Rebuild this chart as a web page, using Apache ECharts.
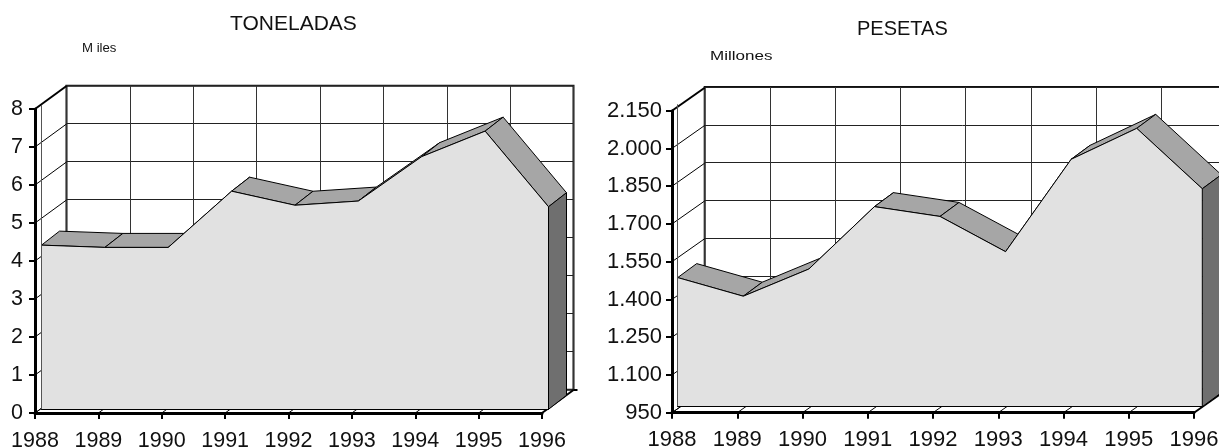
<!DOCTYPE html>
<html><head><meta charset="utf-8">
<style>html,body{margin:0;padding:0;background:#fff}#c{width:1219px;height:447px}</style>
<script src="https://cdn.jsdelivr.net/npm/echarts@6/dist/echarts.min.js"></script>
</head><body><div id="c"></div>
<script>
const years = ['1988','1989','1990','1991','1992','1993','1994','1995','1996'];
const toneladas = [4.32,4.26,4.26,5.74,5.37,5.48,6.65,7.32,5.33];
const pesetas = [1463,1389,1497,1745,1706,1566,1933,2056,1816];
const toneladasTicks = [0,1,2,3,4,5,6,7,8];
const pesetasTicks = [950,1100,1250,1400,1550,1700,1850,2000,2150];

const FONT = '"Liberation Sans", Arial, sans-serif';
const fmt = v => String(v).replace(/(\d)(\d{3})$/, '$1.$2');

const panels = [
  { values: toneladas, ticks: toneladasTicks, fmt: v => String(v), labelMargin: 12, fontSize: 21.5,
    front: {left:35, top:109, width:507, height:304},
    wall:  {left:66.5, top:85.7, width:507, height:304},
    area:  {left:41.5, top:105.3, width:507, height:304},
    depth: [18,-14], wallD: [31.5,-23], xMargin: 17 },
  { values: pesetas, ticks: pesetasTicks, fmt: fmt, labelMargin: 10, fontSize: 22,
    front: {left:672, top:110.7, width:522, height:302},
    wall:  {left:704.7, top:87, width:522, height:302},
    area:  {left:677.7, top:104.7, width:524.6, height:302},
    depth: [19,-14], wallD: [32.7,-23], xMargin: 16 }
];

const grids = [], xAxes = [], yAxes = [], series = [];
const line = (a,b,w,c,z) => ({type:'line', shape:{x1:a[0],y1:a[1],x2:b[0],y2:b[1]}, style:{stroke:c||'#000',lineWidth:w}, z2:z||0});

panels.forEach(p => {
  const vmin = p.ticks[0], vmax = p.ticks[p.ticks.length-1];
  const base = grids.length;
  const iWall = base, iFront = base+1, iArea = base+2;
  grids.push(Object.assign({show:true, outerBoundsMode:'none', borderColor:'#111', borderWidth:2, backgroundColor:'#fff'}, p.wall));
  grids.push(Object.assign({show:false, outerBoundsMode:'none'}, p.front));
  grids.push(Object.assign({show:false, outerBoundsMode:'none'}, p.area));

  const yBase = {type:'value', min:vmin, max:vmax,
    axisTick:{show:false, customValues:p.ticks}, axisLabel:{show:false, customValues:p.ticks}, splitLine:{show:false}, axisLine:{show:false}};
  const xBase = {type:'category', boundaryGap:false, data:years,
    axisTick:{show:false}, axisLabel:{show:false}, splitLine:{show:false}, axisLine:{show:false}};

  // back wall
  xAxes.push(Object.assign({}, xBase, {gridIndex:iWall, z:0,
    splitLine:{show:true, interval:0, lineStyle:{color:'#333', width:1}}}));
  yAxes.push(Object.assign({}, yBase, {gridIndex:iWall, z:0,
    splitLine:{show:true, lineStyle:{color:'#222', width:1}}}));
  // front axes
  xAxes.push(Object.assign({}, xBase, {gridIndex:iFront, z:6,
    axisLine:{show:true, onZero:false, lineStyle:{color:'#000', width:3}},
    axisTick:{show:true, interval:0, length:6, lineStyle:{color:'#000', width:2}},
    axisLabel:{show:true, interval:0, margin:p.xMargin, color:'#111', fontSize:p.fontSize, fontFamily:FONT, hideOverlap:false}}));
  yAxes.push(Object.assign({}, yBase, {gridIndex:iFront, z:6,
    axisLine:{show:true, onZero:false, lineStyle:{color:'#000', width:3}},
    axisTick:{show:true, customValues:p.ticks, length:6, lineStyle:{color:'#000', width:2}},
    axisLabel:{show:true, customValues:p.ticks, margin:p.labelMargin, color:'#111', fontSize:p.fontSize, fontFamily:FONT, formatter:v=>p.fmt(v)}}));
  // area plane
  xAxes.push(Object.assign({}, xBase, {gridIndex:iArea, z:5,
    axisLine:{show:true, onZero:false, lineStyle:{color:'#000', width:1}}}));
  yAxes.push(Object.assign({}, yBase, {gridIndex:iArea, z:5,
    axisLine:{show:true, onZero:false, lineStyle:{color:'#555', width:1}}}));

  // diagonals from front axes to the back wall
  series.push({type:'custom', xAxisIndex:iFront, yAxisIndex:iFront, z:1, silent:true,
    data:p.ticks.map(v=>[0,v]), encode:{x:0,y:1},
    renderItem:(params,api)=>{
      const v = p.ticks[params.dataIndex];
      const a = api.coord([0,v]);
      const top = params.dataIndex===p.ticks.length-1;
      return line(a,[a[0]+p.wallD[0],a[1]+p.wallD[1]], top?2:1);
    }});
  series.push({type:'custom', xAxisIndex:iFront, yAxisIndex:iFront, z:1, silent:true,
    data:years.map((y,i)=>[i,vmin]), encode:{x:0,y:1},
    renderItem:(params,api)=>{
      const i = params.dataIndex, a = api.coord([i,vmin]), last = i===years.length-1;
      const b = [a[0]+p.wallD[0],a[1]+p.wallD[1]];
      const children = [line(a,b,last?2:1)];
      if (last) children.push(line(b,[b[0]+4,b[1]],2));
      return {type:'group', children};
    }});
  // top bands of the 3-D area, painted left to right behind the area face
  const band = p.values.slice(0,-1);
  series.push({type:'custom', xAxisIndex:iArea, yAxisIndex:iArea, z:2, silent:true,
    data:band.map((v,i)=>[i,v]), encode:{x:0,y:1},
    renderItem:(params,api)=>{
      const i = params.dataIndex;
      const a = api.coord([i,p.values[i]]), b = api.coord([i+1,p.values[i+1]]);
      return {type:'polygon', shape:{points:[a,b,[b[0]+p.depth[0],b[1]+p.depth[1]],[a[0]+p.depth[0],a[1]+p.depth[1]]]},
        style:{fill:'#a6a6a6', stroke:'#000', lineWidth:1}};
    }});
  // area face
  series.push({type:'line', xAxisIndex:iArea, yAxisIndex:iArea, z:3, silent:true, data:p.values,
    symbol:'none', lineStyle:{color:'#000', width:1}, areaStyle:{color:'#e1e1e1', opacity:1}, animation:false});
  // right side face
  series.push({type:'custom', xAxisIndex:iArea, yAxisIndex:iArea, z:4, silent:true,
    data:[[years.length-1,p.values[p.values.length-1]]], encode:{x:0,y:1},
    renderItem:(params,api)=>{
      const n = years.length-1;
      const a = api.coord([n,p.values[n]]), b = api.coord([n,vmin]);
      return {type:'polygon', shape:{points:[a,[a[0]+p.depth[0],a[1]+p.depth[1]],[b[0]+p.depth[0],b[1]+p.depth[1]],b]},
        style:{fill:'#6f6f6f', stroke:'#000', lineWidth:1}};
    }});
});

const txt = (x,y,text,size,sx) => ({type:'text', x, y, scaleX:sx||1,
  style:{text, fontSize:size, fontFamily:FONT, fill:'#111', textAlign:'left', textVerticalAlign:'middle'}});

const chart = echarts.init(document.getElementById('c'), null, {renderer:'canvas'});
chart.setOption({
  animation:false, backgroundColor:'#fff',
  grid:grids, xAxis:xAxes, yAxis:yAxes, series,
  graphic:[
    txt(230,24,'TONELADAS',21,1),
    txt(857,29,'PESETAS',20,1),
    txt(82,49,'M iles',12,1.1),
    txt(710,57,'Millones',12,1.42)
  ]
});
</script></body></html>
